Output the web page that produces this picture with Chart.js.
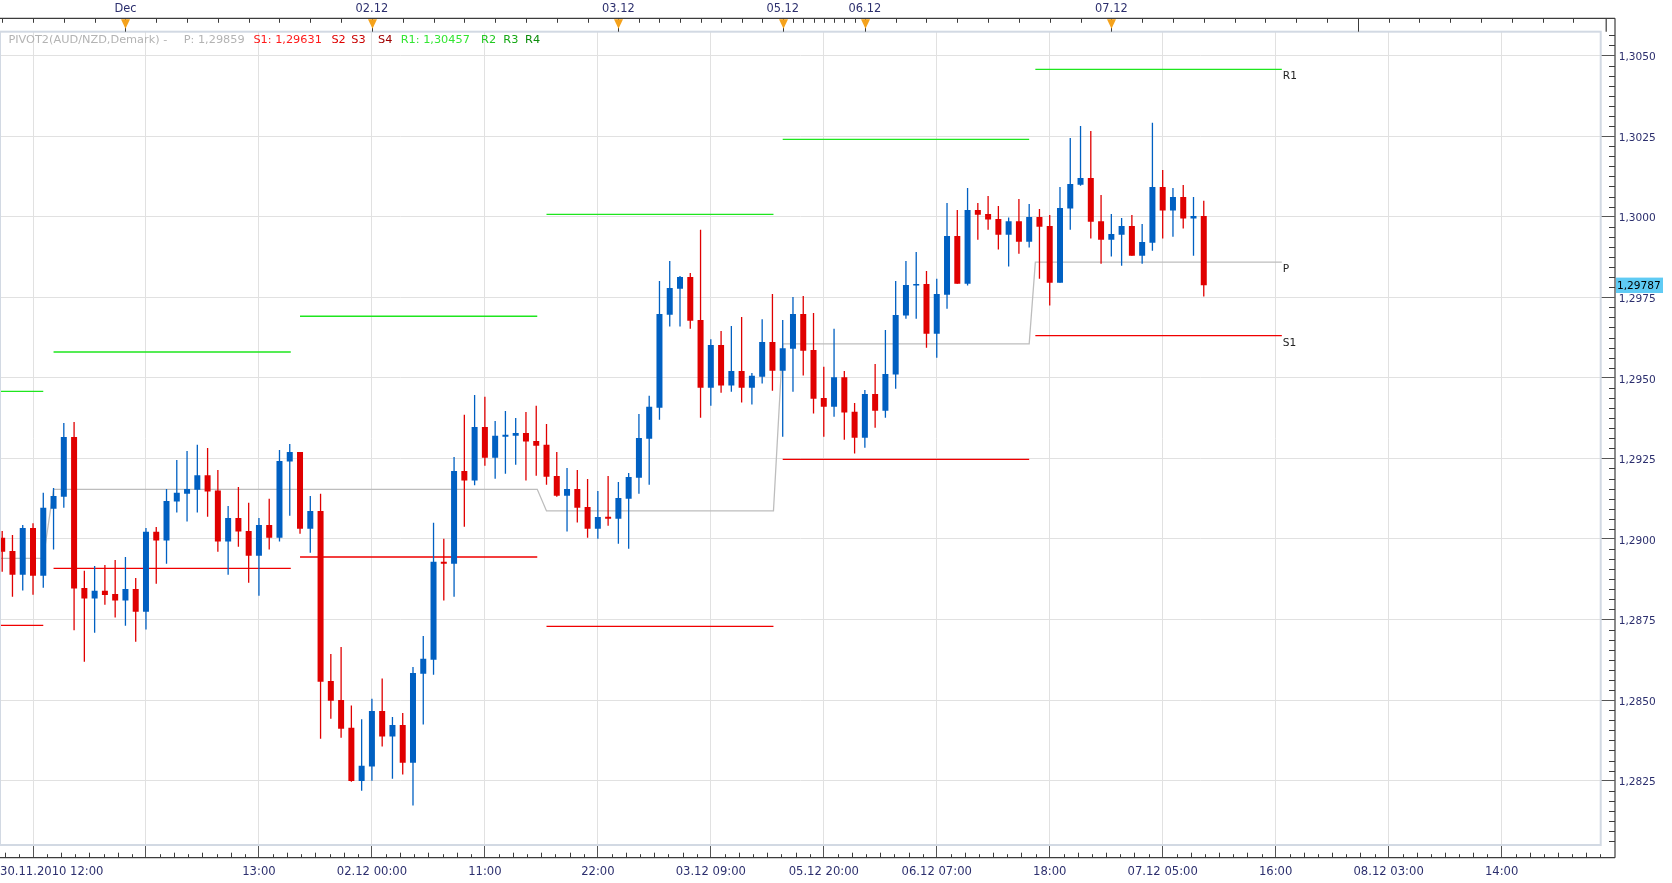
<!DOCTYPE html>
<html><head><meta charset="utf-8">
<script src="https://cdn.jsdelivr.net/npm/chart.js@4.4.1/dist/chart.umd.min.js"></script>
<style>html,body{margin:0;padding:0;background:#fff;}canvas{display:block;}</style>
</head><body>
<canvas id="c" width="1672" height="883"></canvas>
<script>
// ---- data: hourly AUD/NZD candles, index 0 = 30.11.2010 12:00 ----
const openP = [1.29004,1.28963,1.28889,1.29034,1.28886,1.29094,1.29131,1.29316,1.28848,1.28815,
1.28839,1.28829,1.28809,1.28845,1.28774,1.29022,1.28995,1.29116,1.29140,1.29153,
1.29198,1.29150,1.28992,1.29065,1.29025,1.28948,1.29043,1.29004,1.29240,1.29270,
1.29032,1.29087,1.28559,1.28500,1.28414,1.28249,1.28294,1.28466,1.28387,1.28423,
1.28306,1.28582,1.28625,1.28929,1.28923,1.29211,1.29181,1.29347,1.29252,1.29317,
1.29320,1.29329,1.29304,1.29292,1.29195,1.29134,1.29155,1.29099,1.29032,1.29069,
1.29063,1.29125,1.29190,1.29311,1.29407,1.29696,1.29776,1.29813,1.29679,1.29469,
1.29602,1.29476,1.29521,1.29469,1.29503,1.29611,1.29522,1.29590,1.29698,1.29586,
1.29437,1.29410,1.29502,1.29395,1.29314,1.29450,1.29398,1.29510,1.29693,1.29786,
1.29791,1.29637,1.29758,1.29940,1.29792,1.30021,1.30008,1.29993,1.29944,1.29986,
1.29922,1.29999,1.29971,1.29795,1.30025,1.30099,1.30120,1.29986,1.29928,1.29944,
1.29971,1.29879,1.29919,1.30092,1.30019,1.30061,1.29994,1.30002];
const highP = [1.29025,1.29012,1.29043,1.29049,1.29143,1.29158,1.29360,1.29363,1.28901,1.28916,
1.28919,1.28935,1.28944,1.28879,1.29034,1.29037,1.29155,1.29245,1.29273,1.29292,
1.29282,1.29214,1.29102,1.29161,1.29112,1.29065,1.29125,1.29276,1.29295,1.29270,
1.29133,1.29140,1.28643,1.28665,1.28483,1.28441,1.28504,1.28567,1.28448,1.28460,
1.28603,1.28699,1.29050,1.29001,1.29254,1.29385,1.29447,1.29441,1.29366,1.29397,
1.29375,1.29394,1.29413,1.29357,1.29270,1.29220,1.29214,1.29186,1.29149,1.29195,
1.29177,1.29205,1.29388,1.29444,1.29800,1.29862,1.29816,1.29825,1.29959,1.29620,
1.29645,1.29661,1.29689,1.29515,1.29682,1.29760,1.29679,1.29751,1.29754,1.29701,
1.29534,1.29652,1.29521,1.29422,1.29462,1.29543,1.29648,1.29800,1.29862,1.29890,
1.29831,1.29807,1.30042,1.30021,1.30089,1.30042,1.30064,1.30033,1.29997,1.30055,
1.30039,1.30024,1.30005,1.30092,1.30244,1.30281,1.30266,1.30067,1.30008,1.29996,
1.30005,1.29977,1.30291,1.30145,1.30089,1.30098,1.30061,1.30049];
const lowP = [1.28898,1.28821,1.28840,1.28827,1.28849,1.28967,1.29097,1.28717,1.28619,1.28709,
1.28796,1.28756,1.28731,1.28681,1.28719,1.28861,1.28923,1.29082,1.29054,1.29082,
1.29069,1.28960,1.28889,1.28976,1.28864,1.28824,1.28967,1.28992,1.29072,1.29016,
1.28957,1.28380,1.28442,1.28383,1.28247,1.28219,1.28250,1.28356,1.28256,1.28269,
1.28173,1.28424,1.28579,1.28809,1.28821,1.29038,1.29167,1.29227,1.29187,1.29202,
1.29230,1.29181,1.29196,1.29168,1.29131,1.29023,1.29051,1.29004,1.29001,1.29041,
1.28985,1.28970,1.29140,1.29168,1.29370,1.29659,1.29659,1.29652,1.29376,1.29413,
1.29454,1.29457,1.29423,1.29417,1.29482,1.29460,1.29317,1.29457,1.29507,1.29389,
1.29317,1.29379,1.29308,1.29265,1.29283,1.29345,1.29376,1.29466,1.29683,1.29683,
1.29593,1.29562,1.29714,1.29792,1.29786,1.29928,1.29959,1.29898,1.29845,1.29885,
1.29904,1.29807,1.29724,1.29795,1.29959,1.30096,1.29932,1.29854,1.29876,1.29848,
1.29879,1.29854,1.29894,1.29932,1.29938,1.29963,1.29879,1.29752];
const closeP = [1.28960,1.28889,1.29034,1.28886,1.29097,1.29133,1.29316,1.28846,1.28815,1.28839,
1.28826,1.28809,1.28845,1.28774,1.29022,1.28995,1.29118,1.29143,1.29155,1.29198,
1.29147,1.28992,1.29065,1.29023,1.28948,1.29043,1.29004,1.29242,1.29270,1.29032,
1.29087,1.28557,1.28498,1.28411,1.28249,1.28296,1.28466,1.28387,1.28423,1.28306,
1.28584,1.28628,1.28929,1.28923,1.29211,1.29181,1.29347,1.29252,1.29320,1.29323,
1.29329,1.29302,1.29289,1.29193,1.29134,1.29155,1.29097,1.29032,1.29068,1.29063,
1.29127,1.29192,1.29313,1.29410,1.29698,1.29779,1.29813,1.29677,1.29469,1.29602,
1.29476,1.29521,1.29469,1.29506,1.29611,1.29522,1.29592,1.29698,1.29584,1.29435,
1.29410,1.29502,1.29392,1.29314,1.29450,1.29398,1.29512,1.29695,1.29788,1.29790,
1.29637,1.29760,1.29940,1.29792,1.30021,1.30006,1.29991,1.29944,1.29986,1.29922,
1.29999,1.29969,1.29795,1.30027,1.30101,1.30120,1.29984,1.29928,1.29946,1.29971,
1.29879,1.29921,1.30092,1.30019,1.30061,1.29994,1.30002,1.29787];

// pivot segments (in candle-index units) and their levels
const pivotStart = [-0.25, 5, 29, 53, 76, 100.6];
const pivotEnd   = [4, 28.1, 52.1, 75.1, 100, 124.6];
const pivotP  = [1.28940, 1.29154, 1.29154, 1.29087, 1.29605, 1.29859];
const pivotR1 = [1.29458, 1.29580, 1.29691, 1.30007, 1.30240, 1.30457];
const pivotS1 = [1.28732, 1.28909, 1.28944, 1.28729, 1.29247, 1.29631];

// axes
const priceTicks = [1.2825,1.2850,1.2875,1.2900,1.2925,1.2950,1.2975,1.3000,1.3025,1.3050];
const timeTickIdx = [3,14,25,36,47,58,69,80,91,102,113,124,135,146];
const timeTickLabels = ["","","13:00","02.12 00:00","11:00","22:00","03.12 09:00","05.12 20:00","06.12 07:00","18:00","07.12 05:00","16:00","08.12 03:00","14:00"];
const firstTimeLabel = "30.11.2010 12:00";
const dayStartIdx = [12,36,60,76,84,108];
const dayLabels = ["Dec","02.12","03.12","05.12","06.12","07.12"];
const sessionStart = [-12,12,36,60,76,84,108,132];
const sessionStep  = [3,3,3,2,1,3,3,3];

const legendItems = [
  {t:"PIVOT2(AUD/NZD,Demark) -", c:"#b3b3b3", x:8.4},
  {t:"P: 1,29859", c:"#b3b3b3", x:183.7},
  {t:"S1: 1,29631", c:"#ff1a1a", x:253.4},
  {t:"S2", c:"#e00000", x:331.4},
  {t:"S3", c:"#c80000", x:351.3},
  {t:"S4", c:"#a00000", x:378.1},
  {t:"R1: 1,30457", c:"#33e633", x:400.7},
  {t:"R2", c:"#20c820", x:481.1},
  {t:"R3", c:"#14a814", x:503.3},
  {t:"R4", c:"#0c8c0c", x:525.1}
];

const FONT = '"DejaVu Sans", Verdana, sans-serif';
const FS_Y = 10.6, FS_X = 11.6, FS_TOP = 11.4, FS_LEG = 11.3;
const AXIS_TXT = '#2c2f6e';
const UP = '#0060c2', DOWN = '#e00000';
const X_MIN = -0.214, X_MAX = 155.65;
const Y_MIN = 1.280505, Y_MAX = 1.305738;

const idx = openP.map((_, i) => i);
const colorOf = i => closeP[i] >= openP[i] ? UP : DOWN;
const bodyData = idx.map(i => ({x: i, y: [openP[i], closeP[i]]}));
const wickData = idx.map(i => ({x: i, y: [lowP[i], highP[i]]}));

function segs(vals) {
  const pts = [];
  vals.forEach((v, k) => {
    pts.push({x: pivotStart[k], y: v}, {x: pivotEnd[k], y: v});
    if (k < vals.length - 1) pts.push({x: (pivotEnd[k] + pivotStart[k+1]) / 2, y: null});
  });
  return pts;
}
function joined(vals) {
  const pts = [];
  vals.forEach((v, k) => { pts.push({x: pivotStart[k], y: v}, {x: pivotEnd[k], y: v}); });
  return pts;
}

const decor = {
  id: 'decor',
  afterDraw(chart) {
    const {ctx, chartArea: a, scales} = chart;
    const xs = scales.x, ys = scales.y;
    const axisX = a.right + 14.3, axisY = a.bottom + 12.7, topY = 18.3;
    ctx.save();
    // plot frame
    ctx.strokeStyle = '#d2d9e3'; ctx.lineWidth = 2;
    ctx.strokeRect(a.left, a.top, a.right - a.left, a.bottom - a.top);
    // axis lines
    ctx.strokeStyle = '#3c3c3c'; ctx.lineWidth = 1.2;
    ctx.beginPath();
    ctx.moveTo(a.left, topY); ctx.lineTo(axisX, topY);
    ctx.moveTo(axisX, topY); ctx.lineTo(axisX, axisY);
    ctx.moveTo(a.left, axisY); ctx.lineTo(axisX, axisY);
    ctx.moveTo(a.right + 5.5, topY); ctx.lineTo(a.right + 5.5, a.top);
    ctx.stroke();
    ctx.lineWidth = 1;
    ctx.beginPath();
    // right minor ticks
    const ystep = 0.0025 / 8;
    for (let k = -20; k < 120; k++) {
      const v = 1.2800 + k * ystep;
      if (v < ys.min || v > ys.max) continue;
      if (Math.abs((v - 1.2800) / 0.0025 - Math.round((v - 1.2800) / 0.0025)) < 1e-6) continue;
      const py = Math.round(ys.getPixelForValue(v)) + 0.5;
      ctx.moveTo(axisX - 6, py); ctx.lineTo(axisX, py);
    }
    // bottom minor ticks
    for (let k = -1; k < timeTickIdx.length + 1; k++) {
      const m = 3 + 11 * k;
      for (let j = 1; j < 8; j++) {
        const v = m + j * 11 / 8;
        if (v < xs.min || v > xs.max) continue;
        const px = Math.round(xs.getPixelForValue(v)) + 0.5;
        ctx.moveTo(px, axisY - (j % 2 === 0 ? 5 : 3.5)); ctx.lineTo(px, axisY);
      }
    }
    // top session ticks
    sessionStart.forEach((st, s) => {
      for (let k = 0; k < 8; k++) {
        const v = st + k * sessionStep[s];
        if (v < xs.min || v > xs.max) continue;
        const px = Math.round(xs.getPixelForValue(v)) + 0.5;
        ctx.moveTo(px, topY); ctx.lineTo(px, k === 0 ? a.top : topY + 4.5);
      }
    });
    ctx.stroke();
    // day markers
    dayStartIdx.forEach(d => {
      const px = Math.round(xs.getPixelForValue(d)) + 0.5;
      ctx.fillStyle = '#f5a21b';
      ctx.beginPath();
      ctx.moveTo(px - 4.5, topY + 1); ctx.lineTo(px + 4.5, topY + 1); ctx.lineTo(px, topY + 10.5);
      ctx.closePath(); ctx.fill();
    });
    // first time label
    ctx.font = FS_X + 'px ' + FONT;
    ctx.fillStyle = AXIS_TXT; ctx.textAlign = 'left'; ctx.textBaseline = 'middle';
    ctx.fillText(firstTimeLabel, a.left, axisY + 14.6);
    // legend
    ctx.font = FS_LEG + 'px ' + FONT;
    legendItems.forEach(it => { ctx.fillStyle = it.c; ctx.fillText(it.t, it.x, 39.6); });
    // pivot labels
    ctx.font = FS_Y + 'px ' + FONT;
    const last = pivotStart.length - 1;
    const lx = xs.getPixelForValue(pivotEnd[last]) + 1;
    ctx.fillStyle = '#222'; ctx.textBaseline = 'top';
    [['R1', pivotR1[last]], ['P', pivotP[last]], ['S1', pivotS1[last]]].forEach(([t, v]) => {
      ctx.fillText(t, lx, ys.getPixelForValue(v) + 2);
    });
    // last price box
    const lastC = closeP[closeP.length - 1];
    const py = ys.getPixelForValue(lastC);
    ctx.fillStyle = '#5fcbf4';
    ctx.fillRect(axisX + 1, py - 7.7, 47, 15.4);
    ctx.fillStyle = '#000'; ctx.textBaseline = 'middle';
    ctx.fillText(lastC.toFixed(5).replace('.', ','), axisX + 2, py + 0.5);
    ctx.restore();
  }
};

Chart.defaults.font.family = FONT;
new Chart(document.getElementById('c'), {
  type: 'bar',
  data: {
    datasets: [
      {type:'line', label:'P', data: joined(pivotP), borderColor:'#bdbdbd', borderWidth:1.3, pointRadius:0, tension:0, fill:false, order:5},
      {type:'line', label:'R1', data: segs(pivotR1), borderColor:'#1ee61e', borderWidth:1.3, pointRadius:0, tension:0, fill:false, spanGaps:false, order:5},
      {type:'line', label:'S1', data: segs(pivotS1), borderColor:'#f00000', borderWidth:1.3, pointRadius:0, tension:0, fill:false, spanGaps:false, order:5},
      {type:'bar', label:'wick', data: wickData, backgroundColor: c => colorOf(c.dataIndex), barThickness:1.3, grouped:false, inflateAmount:0, order:3},
      {type:'bar', label:'body', data: bodyData, backgroundColor: c => colorOf(c.dataIndex), barThickness:6, grouped:false, inflateAmount:0, minBarLength:1.5, order:1}
    ]
  },
  options: {
    responsive:false, animation:false, devicePixelRatio:1,
    layout:{padding:0},
    plugins:{legend:{display:false}, tooltip:{enabled:false}},
    scales:{
      x:{
        type:'linear', position:'bottom', min:X_MIN, max:X_MAX, offset:false,
        afterBuildTicks: s => { s.ticks = timeTickIdx.map(v => ({value:v})); },
        afterFit: s => { s.height = 38; },
        grid:{offset:false, color:'#e1e1e1', lineWidth:1, tickLength:12, tickColor:'#555', tickWidth:1},
        border:{display:false},
        ticks:{autoSkip:false, maxRotation:0, minRotation:0, padding:8.2, color:AXIS_TXT, font:{size:FS_X}, callback:(v,i)=>timeTickLabels[i]}
      },
      x2:{
        type:'linear', position:'top', min:X_MIN, max:X_MAX, offset:false,
        afterBuildTicks: s => { s.ticks = dayStartIdx.map(v => ({value:v})); },
        afterFit: s => { s.height = 31.7; },
        grid:{display:false, drawTicks:false, offset:false},
        border:{display:false},
        ticks:{autoSkip:false, maxRotation:0, minRotation:0, padding:15.9, color:AXIS_TXT, font:{size:FS_TOP}, callback:(v,i)=>dayLabels[i]}
      },
      y:{
        type:'linear', position:'right', min:Y_MIN, max:Y_MAX,
        afterBuildTicks: s => { s.ticks = priceTicks.map(v => ({value:v})); },
        afterFit: s => { s.width = 71.3; },
        grid:{color:'#e1e1e1', lineWidth:1, tickLength:14, tickColor:'#555', tickWidth:1},
        border:{display:false},
        ticks:{padding:4, labelOffset:2, color:AXIS_TXT, font:{size:FS_Y}, callback:v=>v.toFixed(4).replace('.', ',')}
      }
    }
  },
  plugins:[decor]
});
</script>
</body></html>
